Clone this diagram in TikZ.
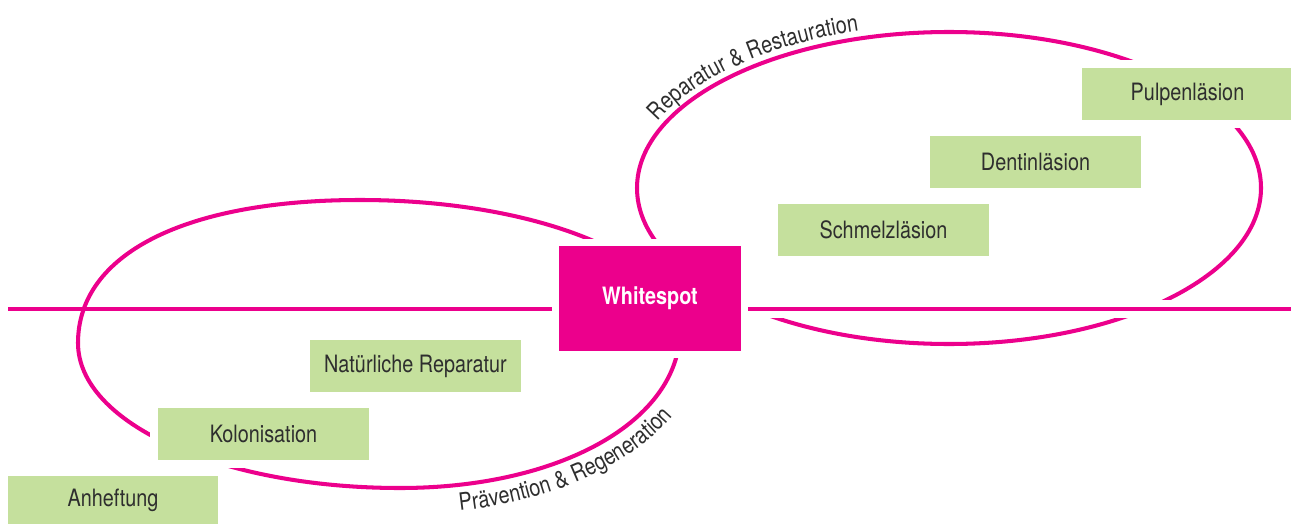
\documentclass[tikz,border=0pt]{standalone}
\usepackage{fontspec}
\setmainfont{TeX Gyre Heros}[FakeStretch=0.83]
\usetikzlibrary{backgrounds, decorations.text}
\definecolor{spotpink}{HTML}{EC008C}
\definecolor{stagegreen}{HTML}{C5E09D}
\definecolor{labelgray}{HTML}{2E2E2E}
\newcommand{\labelsize}{\fontsize{13.6pt}{16pt}\selectfont}

\begin{document}
\begin{tikzpicture}[x=0.02cm, y=0.02cm,
    ring/.style={draw=spotpink, line width=2.3pt},
    bar/.style={draw=spotpink, line width=2.3pt},
    stage/.style={fill=stagegreen, text=labelgray, inner sep=0pt,
        minimum width=4.22cm, minimum height=1.04cm,
        preaction={draw=white, line width=9pt}, font=\labelsize},
    spot/.style={fill=spotpink, text=white, inner sep=0pt,
        minimum width=3.64cm, minimum height=2.1cm,
        preaction={draw=white, line width=8.5pt}, font=\labelsize\bfseries},
    arclabel/.style={decorate, decoration={text along path,
        text={|\labelsize\color{labelgray}|#1}}}
  ]
  \useasboundingbox (0,0) rectangle (1291,-524);

  \node[spot] (ws) at (650,-298.5) {Whitespot};
  \node[stage] (pulpe) at (1187.5,-94) {Pulpenläsion};
  \node[stage] (dentin) at (1035.5,-162) {Dentinläsion};
  \node[stage] (schmelz) at (883.5,-230) {Schmelzläsion};
  \node[stage] (natrep) at (415.5,-366) {Natürliche Reparatur};
  \node[stage] (kolon) at (263.5,-434) {Kolonisation};
  \node[stage, minimum height=0.96cm] (anheft) at (113,-500) {Anheftung};

  \coordinate (lineL) at (8,-309);
  \coordinate (lineR) at (1291,-309);

  \begin{pgfonlayer}{background}
    % left ring: Praevention
    \draw[ring] (78,-343) .. controls (78,-254) and (185,-200) .. (360,-200)
        .. controls (537,-200) and (680,-258) .. (680,-330)
        .. controls (680,-421) and (560,-488) .. (400,-488)
        .. controls (222,-488) and (78,-424) .. cycle;
    % right ring: Reparatur
    \draw[ring] (949,-188) ellipse [x radius=312, y radius=156];
    \draw[bar, preaction={draw=white, line width=10pt}] (ws.east |- lineR) -- (lineR);
    \draw[bar] (lineL) -- (ws.west |- lineL);
  \end{pgfonlayer}

  \path[arclabel={Prävention {\&} Regeneration},
        decoration={text align={left indent=1.2cm}}]
    (400,-514) .. controls (576,-514) and (707,-432) .. (707,-330);
  \path[arclabel={Reparatur {\&} Restauration}]
    (949,-188) ++(156:319 and 164) arc[start angle=156, end angle=88, x radius=319, y radius=164];
\end{tikzpicture}
\end{document}
